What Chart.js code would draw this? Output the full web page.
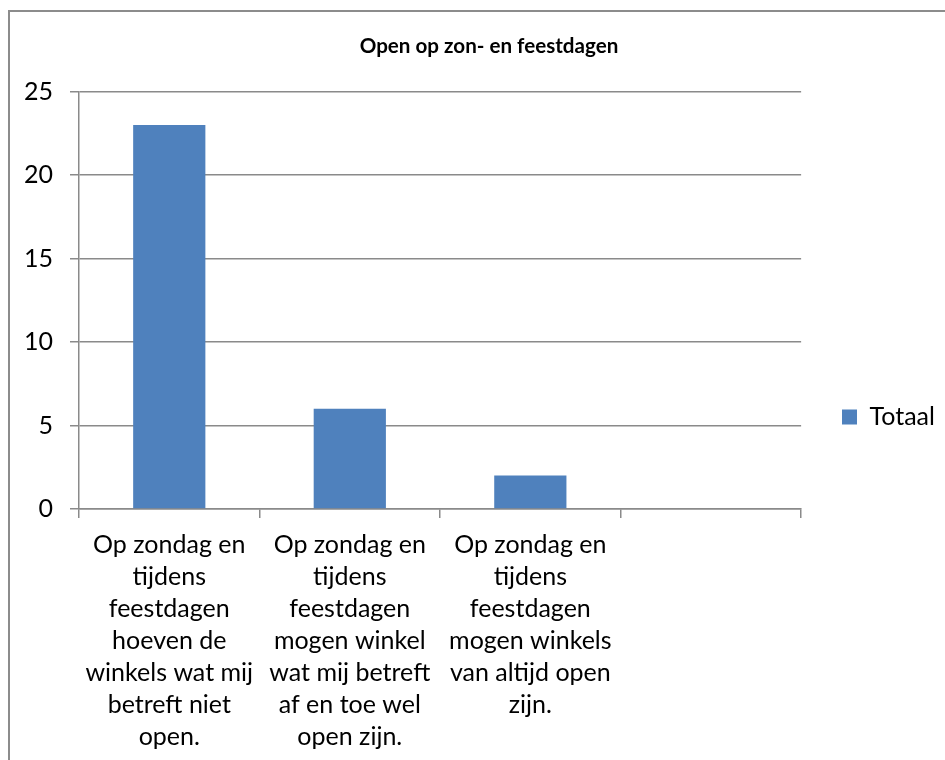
<!DOCTYPE html>
<html>
<head>
<meta charset="utf-8">
<title>Open op zon- en feestdagen</title>
<script src="https://cdn.jsdelivr.net/npm/chart.js@4"></script>
<style>
    html, body { margin: 0; padding: 0; overflow: hidden; background: #fff; }
    .frame {
        position: absolute;
        left: 8px;
        top: 10px;
        width: 958px;
        height: 780px;
        border: 2px solid #8c8c8c;
    }
</style>
</head>
<body>
<div class="frame"><canvas id="chart" width="958" height="780"></canvas></div>
<script>
const titleText = 'Open op zon- en feestdagen';
const seriesLabel = 'Totaal';
const categories = [
    ['Op zondag en', 'tijdens', 'feestdagen', 'hoeven de', 'winkels wat mij', 'betreft niet', 'open.'],
    ['Op zondag en', 'tijdens', 'feestdagen', 'mogen winkel', 'wat mij betreft', 'af en toe wel', 'open zijn.'],
    ['Op zondag en', 'tijdens', 'feestdagen', 'mogen winkels', 'van altijd open', 'zijn.'],
    ''
];
const totals = [23, 6, 2, null];
const yTicks = [0, 5, 10, 15, 20, 25];

const colors = {
    bar: '#4f81bd',
    grid: '#8a8a8a',
    text: '#000000'
};

Chart.defaults.font.family = "'Lato', 'Open Sans', sans-serif";
Chart.defaults.color = colors.text;

// the legend item sits lower and further left than Chart.js would put it
const legendShift = {
    id: 'legendShift',
    afterLayout(chart) {
        const lg = chart.legend;
        if (!lg) return;
        const pad = lg.options.labels.padding;
        const size = lg.options.labels.font.size;
        const w = lg.right - lg.left;
        const h = lg.bottom - lg.top;
        lg.left = 832 - pad;
        lg.right = lg.left + w;
        lg.top = 405 - size / 2 - pad;
        lg.bottom = lg.top + h;
    }
};

new Chart(document.getElementById('chart'), {
    type: 'bar',
    data: {
        labels: categories,
        datasets: [{
            label: seriesLabel,
            data: totals,
            backgroundColor: colors.bar,
            borderWidth: 0,
            categoryPercentage: 1,
            barPercentage: 0.4
        }]
    },
    options: {
        responsive: false,
        animation: false,
        layout: { padding: { top: 0, left: 0, right: 0, bottom: 28 } },
        plugins: {
            title: {
                display: true,
                text: titleText,
                color: colors.text,
                font: { size: 20.6, weight: 'bold' },
                padding: { top: 22, bottom: 33 }
            },
            legend: {
                position: 'right',
                align: 'start',
                labels: {
                    boxWidth: 15,
                    boxHeight: 15,
                    padding: 64,
                    color: colors.text,
                    font: { size: 25 }
                }
            },
            tooltip: { enabled: false }
        },
        scales: {
            x: {
                grid: {
                    display: true,
                    drawOnChartArea: false,
                    drawTicks: true,
                    tickLength: 9,
                    offset: true,
                    color: colors.grid,
                    lineWidth: 1.5
                },
                border: { display: true, color: colors.grid, width: 1.5 },
                ticks: {
                    color: colors.text,
                    font: { size: 25, lineHeight: 1.28 },
                    padding: 11,
                    maxRotation: 0,
                    minRotation: 0,
                    autoSkip: false
                }
            },
            y: {
                min: yTicks[0],
                max: yTicks[yTicks.length - 1],
                afterFit(scale) { scale.width = 69; },
                grid: {
                    color: colors.grid,
                    lineWidth: 1.5,
                    tickLength: 9
                },
                border: { display: true, color: colors.grid, width: 1.5 },
                ticks: {
                    stepSize: 5,
                    color: colors.text,
                    font: { size: 25 },
                    padding: 17
                }
            }
        }
    },
    plugins: [legendShift]
});
</script>
</body>
</html>
